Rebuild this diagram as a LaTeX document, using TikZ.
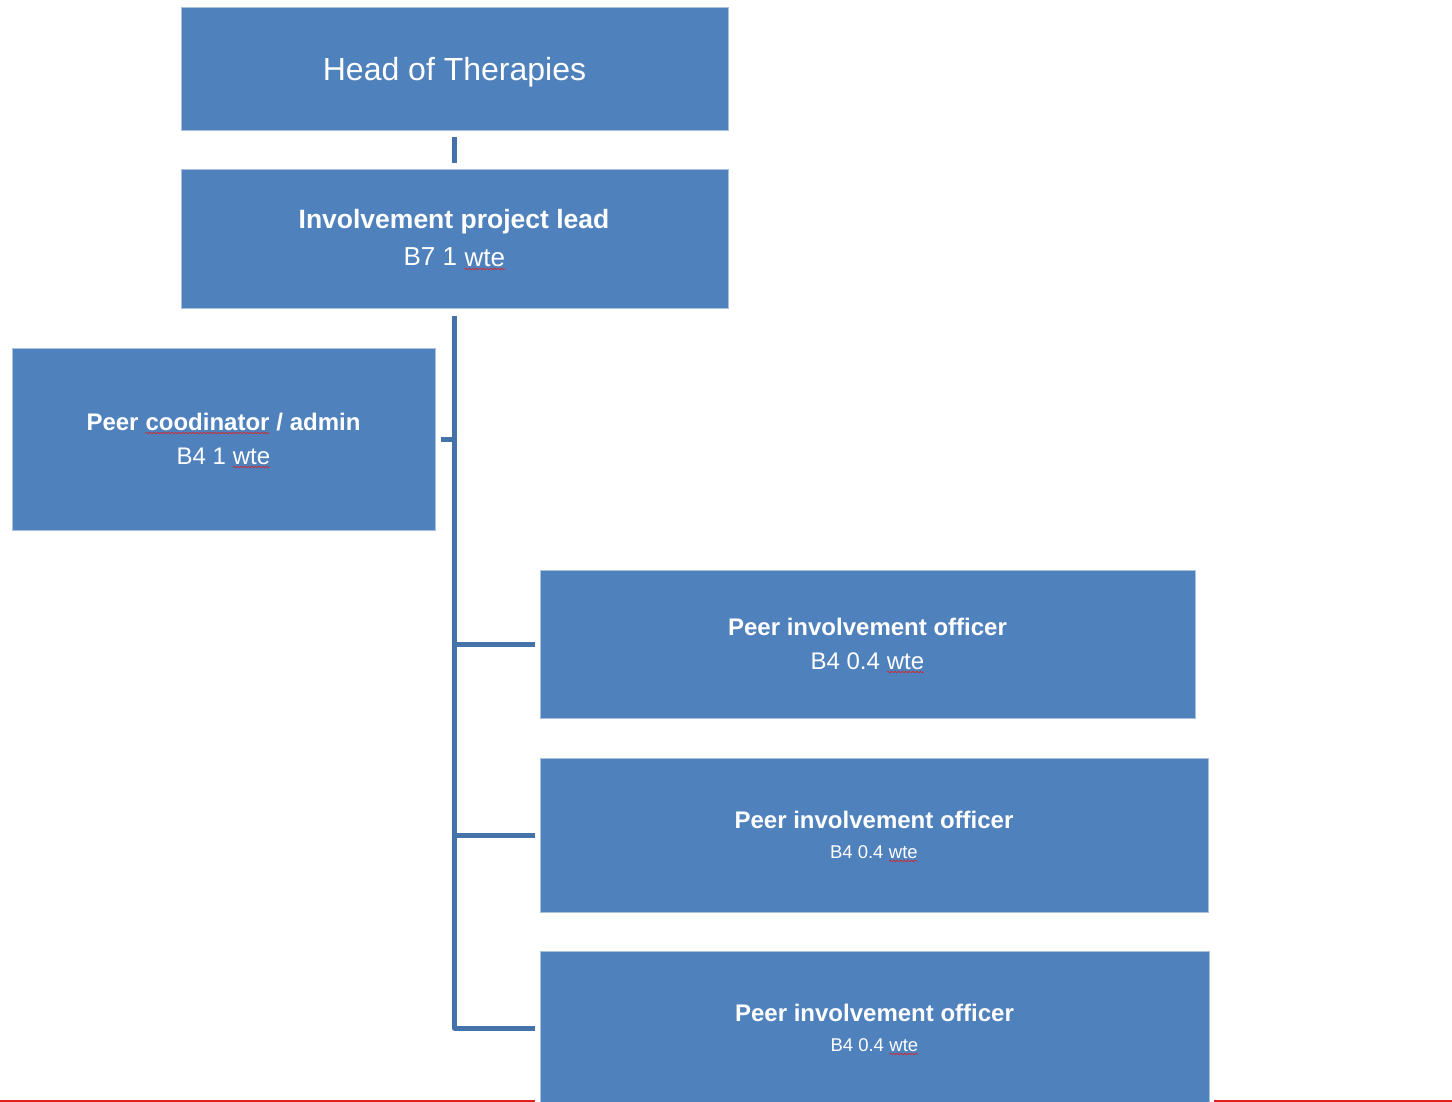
\documentclass[tikz,border=0pt]{standalone}
\usepackage{fontspec}
\setmainfont{Liberation Sans}
\usetikzlibrary{decorations.pathmorphing}
\definecolor{boxblue}{HTML}{4F81BD}
\definecolor{boxedge}{HTML}{A9C1DF}
\definecolor{linkblue}{HTML}{4472A9}
\definecolor{wavered}{HTML}{E02020}
\newcommand\redwave[1]{\tikz[baseline=(w.base),x=1pt,y=1pt]{\node[inner sep=0pt,outer sep=0pt,anchor=center,text=white,fill=none,draw=none](w){#1};\draw[draw=wavered,line width=0.6pt,decorate,decoration={snake,amplitude=0.8pt,segment length=3.6pt}]([yshift=-3pt]w.base west)--([yshift=-3pt]w.base east);}}
\tikzset{
  orgbox/.style={rectangle, fill=boxblue, draw=boxedge, line width=1pt, inner sep=0pt},
  link/.style={draw=linkblue, line width=5pt, line join=round},
  txt/.style={text=white, anchor=base, inner sep=0pt},
  pageline/.style={draw=wavered, line width=1.2pt}
}
\begin{document}
\begin{tikzpicture}[x=1pt,y=-1pt]
\useasboundingbox (0,0) rectangle (1452,1102);
\clip (0,0) rectangle (1452,1102);
% boxes
\node[orgbox, minimum width=547, minimum height=123] (b1) at (454.5,69.5) {};
\node[orgbox, minimum width=547, minimum height=139] (b2) at (454.5,239.5) {};
\node[orgbox, minimum width=423, minimum height=182] (pc) at (223.5,439) {};
\node[orgbox, minimum width=655, minimum height=148] (o1) at (867.5,644) {};
\node[orgbox, minimum width=668, minimum height=154] (o2) at (874,835) {};
\node[orgbox, minimum width=669, minimum height=154] (o3) at (874.5,1028) {};
% texts
\node[txt] (t1) at (454.5,81) {\fontsize{32}{38}\selectfont Head of Therapies};
\node[txt] (t2a) at (454,229) {\fontsize{26.5}{32}\selectfont\bfseries Involvement project lead};
\node[txt] (t2b) at (454.5,266) {\fontsize{26}{32}\selectfont B7 1 \redwave{wte}};
\node[txt] (t3a) at (223.5,430) {\fontsize{24}{29}\selectfont\bfseries Peer \redwave{coodinator} / admin};
\node[txt] (t3b) at (223.5,464) {\fontsize{24}{29}\selectfont B4 1 \redwave{wte}};
\node[txt] (t4a) at (867.5,635) {\fontsize{24}{29}\selectfont\bfseries Peer involvement officer};
\node[txt] (t4b) at (867.5,669) {\fontsize{24}{29}\selectfont B4 0.4 \redwave{wte}};
\node[txt] (t5a) at (874,828) {\fontsize{24}{29}\selectfont\bfseries Peer involvement officer};
\node[txt] (t5b) at (874,858) {\fontsize{18.5}{22}\selectfont B4 0.4 \redwave{wte}};
\node[txt] (t6a) at (874.5,1021) {\fontsize{24}{29}\selectfont\bfseries Peer involvement officer};
\node[txt] (t6b) at (874.5,1051) {\fontsize{18.5}{22}\selectfont B4 0.4 \redwave{wte}};
% connectors
\coordinate (trunk) at ([yshift=-6]b2.south);
\path[link] ([yshift=-6]b1.south) -- ([yshift=6]b2.north);
\path[link] (trunk) |- ([xshift=-5]o3.west);
\path[link] ([xshift=5]pc.east) -- (trunk |- pc.east);
\path[link] (trunk |- o1.west) -- ([xshift=-5]o1.west);
\path[link] (trunk |- o2.west) -- ([xshift=-5]o2.west);
% page edge line
\coordinate (pl0) at (0,1101);
\coordinate (pl1) at (535,1101);
\coordinate (pl2) at (1214,1101);
\coordinate (pl3) at (1452,1101);
\path[pageline] (pl0) -- (pl1) (pl2) -- (pl3);
\end{tikzpicture}
\end{document}
